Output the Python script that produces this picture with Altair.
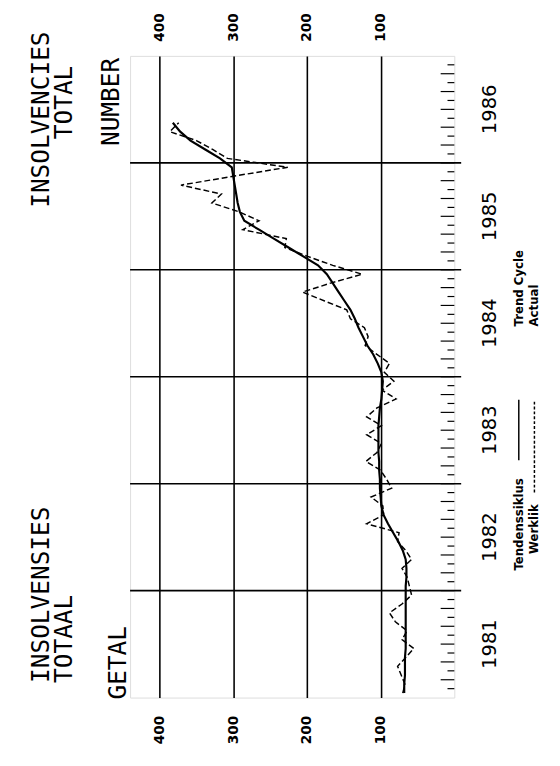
import json
import altair as alt
import pandas as pd

# ---------------- data ----------------
years = ["1981", "1982", "1983", "1984", "1985", "1986"]
quarter_letters = ["M", "J", "S", "D"]
value_ticks = [100, 200, 300, 400]

# monthly values, Jan 1981 .. May 1986
trend = [
    68, 68, 67, 67, 67, 66, 66, 66, 66, 66, 66, 66,
    66, 65, 65, 66, 70, 76, 83, 90, 96, 99, 100, 101,
    101, 102, 102, 103, 103, 103, 103, 102, 101, 99, 98, 97,
    99, 104, 110, 118, 124, 130, 135, 141, 149, 157, 165, 173,
    185, 205, 225, 245, 265, 285, 291, 294, 296, 298, 300, 302,
    318, 338, 358, 372, 382,
]
actual = [
    70, 67, 72, 77, 66, 55, 71, 64, 80, 88, 71, 58,
    61, 64, 71, 58, 66, 77, 75, 119, 96, 97, 113, 85,
    92, 100, 120, 105, 99, 119, 99, 119, 105, 79, 98, 82,
    95, 88, 105, 121, 117, 122, 141, 146, 176, 206, 168, 125,
    165, 199, 230, 228, 287, 265, 292, 329, 316, 371, 300, 226,
    308, 328, 350, 386, 374,
]

# ---------------- layout ----------------
W, H = 332, 657
XMAX = 440
NM = 72
FONT = "DejaVu Sans"
MONO = "DejaVu Sans Mono"
PX_PER_UNIT = W / XMAX

n = len(trend)
df = pd.DataFrame({"t": [i + 0.5 for i in range(n)], "trend": trend, "actual": actual})

xs = alt.Scale(domain=[0, XMAX], reverse=True, nice=False, zero=False)
ys = alt.Scale(domain=[0, NM], nice=False, zero=False)

qexpr = json.dumps(quarter_letters) + "[(datum.value/3 - 1) % 4]"

trend_line = alt.Chart(df).mark_line(color="black", strokeWidth=2.2).encode(
    x=alt.X("trend:Q", scale=xs, axis=alt.Axis(
        orient="bottom", values=value_ticks, grid=True, gridColor="black",
        gridWidth=1.6, gridOpacity=1, ticks=False, domain=False,
        labelAngle=270, labelAlign="right", labelBaseline="middle",
        labelFontSize=14, labelFontWeight="bold", labelFont=FONT,
        labelColor="black", labelPadding=18, title=None)),
    y=alt.Y("t:Q", scale=ys, axis=alt.Axis(
        orient="right", values=list(range(3, NM + 1, 3)), labelExpr=qexpr,
        ticks=False, domain=False, grid=False, labelAngle=270,
        labelAlign="center", labelBaseline="top", labelFontSize=9,
        labelFontWeight="bold", labelFont=FONT, labelColor="black",
        labelPadding=4, title=None)),
    order=alt.Order("t:Q"),
)

actual_line = alt.Chart(df).mark_line(color="black", strokeWidth=1.5, strokeDash=[6, 3]).encode(
    x=alt.X("actual:Q", scale=xs, axis=alt.Axis(
        orient="top", values=value_ticks, grid=False, ticks=False, domain=False,
        labelAngle=270, labelAlign="left", labelBaseline="middle",
        labelFontSize=14, labelFontWeight="bold", labelFont=FONT,
        labelColor="black", labelPadding=15, title=None)),
    y=alt.Y("t:Q", scale=ys, axis=None),
    order=alt.Order("t:Q"),
)

# year separators (extend a bit past the right frame)
sep_df = pd.DataFrame({"t": [12 * k for k in range(1, 6)],
                       "x0": [XMAX] * 5, "x1": [-7 / PX_PER_UNIT] * 5})
seps = alt.Chart(sep_df).mark_rule(color="black", strokeWidth=1.6, clip=False).encode(
    y=alt.Y("t:Q", scale=ys, axis=None),
    x=alt.X("x0:Q", scale=xs, axis=None),
    x2="x1:Q",
)

# monthly ticks inside the right frame (alternating long / short)
LONG, SHORT = 14 / PX_PER_UNIT, 7 / PX_PER_UNIT
tick_df = pd.DataFrame({
    "t": list(range(1, NM)),
    "x0": [0] * (NM - 1),
    "x1": [LONG if (m % 2 == 0) else SHORT for m in range(1, NM)],
})
ticks = alt.Chart(tick_df).mark_rule(color="black", strokeWidth=1.2).encode(
    y=alt.Y("t:Q", scale=ys, axis=None),
    x=alt.X("x0:Q", scale=xs, axis=None),
    x2="x1:Q",
)

# year labels
yr_df = pd.DataFrame({"t": [6 + 12 * i for i in range(len(years))], "label": years})
yr_text = alt.Chart(yr_df).mark_text(
    angle=270, align="center", baseline="middle", fontSize=20, font=FONT, color="black"
).encode(y=alt.Y("t:Q", scale=ys, axis=None), x=alt.value(W + 37), text="label:N")


def txt(s, x, y, size, align="left", weight="normal", font=FONT):
    return alt.Chart(pd.DataFrame({"s": [s]})).mark_text(
        angle=270, align=align, baseline="middle", fontSize=size, font=font,
        fontWeight=weight, color="black"
    ).encode(x=alt.value(x), y=alt.value(y), text="s:N")


OX, OY = 133, 48  # plot origin on the page (incl. 8px margin)
def px(x):
    return x - OX
def py(y):
    return y - OY

labels = [
    txt("INSOLVENCIES", px(42), py(23), 25, align="right", font=MONO),
    txt("TOTAL", px(66), py(58), 25, align="right", font=MONO),
    txt("INSOLVENSIES", px(42), py(690), 25, align="left", font=MONO),
    txt("TOTAAL", px(66), py(690), 25, align="left", font=MONO),
    txt("GETAL", px(121), py(707), 25, align="left", font=MONO),
    txt("NUMBER", px(114), py(50), 25, align="right", font=MONO),
    txt("Tendenssiklus", px(531), py(575), 12, align="left", weight="bold"),
    txt("Werklik", px(547), py(558), 12, align="left", weight="bold"),
    txt("Trend Cycle", px(531), py(325), 12, align="left", weight="bold"),
    txt("Actual", px(547), py(325), 12, align="left", weight="bold"),
]

leg_solid = alt.Chart(pd.DataFrame({"a": [0]})).mark_rule(color="black", strokeWidth=1.5).encode(
    x=alt.value(px(531)), y=alt.value(py(462)), y2=alt.value(py(400)))
leg_dash = alt.Chart(pd.DataFrame({"a": [0]})).mark_rule(color="black", strokeWidth=1.5, strokeDash=[3, 2]).encode(
    x=alt.value(px(547)), y=alt.value(py(495)), y2=alt.value(py(400)))

chart = alt.layer(
    trend_line, actual_line, seps, ticks, yr_text, leg_solid, leg_dash, *labels
).properties(
    width=W, height=H,
    autosize=alt.AutoSizeParams(type="none"),
    padding={"left": OX - 8, "top": OY - 8, "right": 100, "bottom": 60},
).configure_view(stroke="black", strokeWidth=1.6).configure(background="white")

chart.save("out.html", embed_options={"renderer": "svg", "actions": False})
